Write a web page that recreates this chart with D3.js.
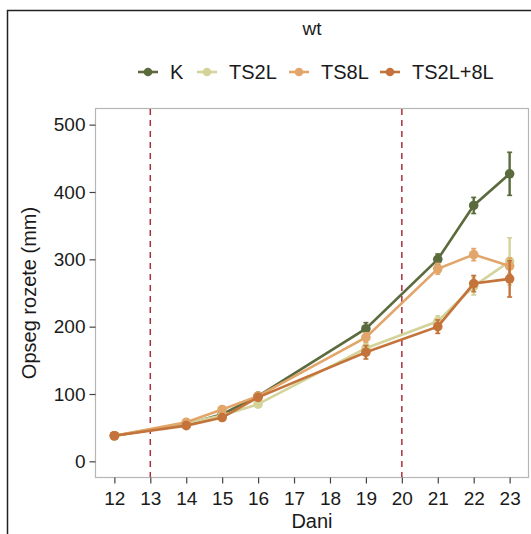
<!DOCTYPE html>
<html><head><meta charset="utf-8">
<script src="https://cdn.jsdelivr.net/npm/d3@7"></script>
<style>
html,body{margin:0;padding:0;background:#fff;}
svg{display:block;font-family:"Liberation Sans",Arial,sans-serif;}
</style></head>
<body>
<svg id="c" width="531" height="534"></svg>
<script>
const days = [12, 14, 15, 16, 19, 21, 22, 23];
const seriesNames = ["K", "TS2L", "TS8L", "TS2L+8L"];
const seriesColors = ["#5b6b3e", "#d3d39a", "#e2a56a", "#c4733a"];
const valK      = [38, 55, 70, 97, 197, 300, 380, 427];
const errK      = [3, 3, 3, 4, 9, 8, 12, 32];
const valTS2L   = [38, 57, 68, 85, 168, 208, 260, 297];
const errTS2L   = [3, 3, 4, 4, 7, 8, 13, 35];
const valTS8L   = [38, 58, 77, 97, 184, 286, 307, 290];
const errTS8L   = [3, 3, 4, 4, 7, 8, 9, 12];
const valTS2L8L = [38, 53, 65, 95, 162, 200, 264, 271];
const errTS2L8L = [3, 3, 4, 4, 10, 10, 12, 27];
const xTicks = [12,13,14,15,16,17,18,19,20,21,22,23];
const yTicks = [0,100,200,300,400,500];
const vLines = [13, 20];
const title = "wt";
const xTitle = "Dani";
const yTitle = "Opseg rozete (mm)";

const allVals = [valK, valTS2L, valTS8L, valTS2L8L];
const allErrs = [errK, errTS2L, errTS8L, errTS2L8L];

const svg = d3.select("#c");
const x = d3.scaleLinear().domain([11.475, 23.525]).range([95.5, 528.5]);
const y = d3.scaleLinear().domain([-24, 524]).range([477.5, 108.5]);

// outer frame
svg.append("rect").attr("x", 7.5).attr("y", 10.5).attr("width", 540).attr("height", 540)
  .attr("fill", "none").attr("stroke", "#222").attr("stroke-width", 1.5);

// panel
svg.append("rect").attr("x", 95.5).attr("y", 108.5).attr("width", 433).attr("height", 369)
  .attr("fill", "#fff").attr("stroke", "#b5b5b5").attr("stroke-width", 1.2);

// axes
const xAxis = svg.append("g").attr("transform", "translate(0,477.5)")
  .call(d3.axisBottom(x).tickValues(xTicks).tickSize(6).tickPadding(4).tickFormat(d3.format("d")));
const yAxis = svg.append("g").attr("transform", "translate(95.5,0)")
  .call(d3.axisLeft(y).tickValues(yTicks).tickSize(6).tickPadding(4));
[xAxis, yAxis].forEach(g => {
  g.select(".domain").remove();
  g.selectAll(".tick line").attr("stroke", "#444").attr("stroke-width", 1.2);
  g.selectAll(".tick text").attr("fill", "#1a1a1a").style("font-size", "19px")
    .style("font-family", "'Liberation Sans', Arial, sans-serif");
});
xAxis.selectAll(".tick text").attr("dy", "0.9em");

// dashed vertical lines
svg.append("g").selectAll("line").data(vLines).join("line")
  .attr("x1", d => x(d)).attr("x2", d => x(d))
  .attr("y1", 109).attr("y2", 477)
  .attr("stroke", "#a8303f").attr("stroke-width", 1.5).attr("stroke-dasharray", "6,5");

// series
const line = d3.line().x(d => x(d.day)).y(d => y(d.v));
seriesNames.forEach((name, i) => {
  const pts = days.map((d, j) => ({day: d, v: allVals[i][j], e: allErrs[i][j]}));
  const g = svg.append("g");
  const col = seriesColors[i];
  g.append("path").datum(pts).attr("d", line).attr("fill", "none")
    .attr("stroke", col).attr("stroke-width", 2.6);
  g.selectAll("line.eb").data(pts).join("line").attr("class", "eb")
    .attr("x1", d => x(d.day)).attr("x2", d => x(d.day))
    .attr("y1", d => y(d.v - d.e)).attr("y2", d => y(d.v + d.e))
    .attr("stroke", col).attr("stroke-width", 2.4);
  ["lo", "hi"].forEach(k => {
    g.selectAll("line.cap" + k).data(pts).join("line").attr("class", "cap" + k)
      .attr("x1", d => x(d.day) - 2.5).attr("x2", d => x(d.day) + 2.5)
      .attr("y1", d => y(k === "lo" ? d.v - d.e : d.v + d.e))
      .attr("y2", d => y(k === "lo" ? d.v - d.e : d.v + d.e))
      .attr("stroke", col).attr("stroke-width", 1.6);
  });
  g.selectAll("circle").data(pts).join("circle")
    .attr("cx", d => x(d.day)).attr("cy", d => y(d.v)).attr("r", 4.8).attr("fill", col);
});

// titles
svg.append("text").attr("x", 312).attr("y", 35).attr("text-anchor", "middle")
  .attr("fill", "#1a1a1a").style("font-size", "19px").text(title);
svg.append("text").attr("x", 312).attr("y", 528).attr("text-anchor", "middle")
  .attr("fill", "#1a1a1a").style("font-size", "20px").text(xTitle);
svg.append("text").attr("transform", "translate(36,293) rotate(-90)").attr("text-anchor", "middle")
  .attr("fill", "#1a1a1a").style("font-size", "20px").text(yTitle);

// legend
const legX = [138, 197, 289, 380];
const leg = svg.append("g");
seriesNames.forEach((name, i) => {
  const g = leg.append("g").attr("transform", `translate(${legX[i]},72)`);
  g.append("line").attr("x1", 0).attr("x2", 20).attr("y1", 0).attr("y2", 0)
    .attr("stroke", seriesColors[i]).attr("stroke-width", 2.6);
  g.append("circle").attr("cx", 10).attr("cy", 0).attr("r", 4.3).attr("fill", seriesColors[i]);
  g.append("text").attr("x", 32).attr("y", 7).attr("fill", "#1a1a1a")
    .style("font-size", "20px").text(name);
});
</script>
</body></html>
